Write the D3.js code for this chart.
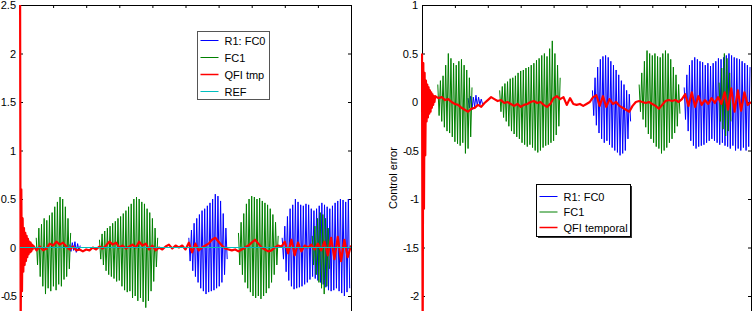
<!DOCTYPE html>
<html>
<head>
<meta charset="utf-8">
<script src="https://cdn.jsdelivr.net/npm/d3@7"></script>
<style>
  body { margin: 0; background: #fff; }
  text { font-family: "Liberation Sans", Arial, sans-serif; }
</style>
</head>
<body>
<div id="grafiek"></div>
<script>
// time between two samples of a burst (s)
var tStep = 0.04;
// red transient: first samples every 0.02 s, then every 0.1 s from t = 0.4
var redFastStep = 0.02;
var redBodyStart = 0.4;
var redBodyStep = 0.1;

var xTicks = [0, 1, 2, 3, 4, 5, 6, 7, 8, 9, 10];
var leftYTicks = [-0.5, 0, 0.5, 1, 1.5, 2, 2.5];
var rightYTicks = [-2, -1.5, -1, -0.5, 0, 0.5, 1];

// ---------- left panel ----------
// bursts: [start time, samples]
var leftFC0 = [
  [1.5, [0.03, -0.04, 0.05, -0.03, 0.06, -0.05, 0.04, -0.03, 0.02]],
  [5.1, [0.1, -0.14, 0.18, -0.24, 0.25, -0.3, 0.3, -0.36, 0.34, -0.42, 0.38, -0.45, 0.4, -0.48, 0.43, -0.46, 0.46, -0.45, 0.5, -0.44, 0.55, -0.42, 0.53, -0.4, 0.48, -0.36, 0.35, -0.28, 0.2, -0.12]],
  [7.92, [0.1, -0.12, 0.22, -0.25, 0.32, -0.34, 0.4, -0.4, 0.44, -0.43, 0.5, -0.42, 0.47, -0.41, 0.44, -0.4, 0.43, -0.38, 0.45, -0.36, 0.44, -0.33, 0.4, -0.3, 0.38, -0.32, 0.4, -0.34, 0.43, -0.36, 0.46, -0.38, 0.44, -0.41, 0.42, -0.44, 0.4, -0.45, 0.43, -0.44, 0.46, -0.42, 0.48, -0.45, 0.5, -0.47, 0.49, -0.5, 0.47, -0.46, 0.5, -0.42]]
];
var leftFC1 = [
  [0.49, [0.1, -0.18, 0.2, -0.3, 0.24, -0.4, 0.3, -0.48, 0.28, -0.42, 0.33, -0.45, 0.36, -0.4, 0.42, -0.44, 0.47, -0.38, 0.52, -0.4, 0.5, -0.33, 0.42, -0.3, 0.3, -0.22, 0.15]],
  [2.4, [0.08, -0.12, 0.14, -0.18, 0.17, -0.24, 0.2, -0.28, 0.22, -0.3, 0.25, -0.32, 0.27, -0.35, 0.3, -0.34, 0.32, -0.4, 0.35, -0.44, 0.38, -0.46, 0.42, -0.45, 0.45, -0.52, 0.5, -0.5, 0.52, -0.55, 0.5, -0.52, 0.47, -0.56, 0.45, -0.62, 0.4, -0.55, 0.36, -0.45, 0.3, -0.35, 0.2, -0.2, 0.1]],
  [6.6, [0.15, -0.18, 0.26, -0.28, 0.35, -0.36, 0.45, -0.42, 0.5, -0.46, 0.53, -0.5, 0.52, -0.52, 0.5, -0.5, 0.51, -0.53, 0.48, -0.5, 0.46, -0.47, 0.44, -0.42, 0.4, -0.36, 0.34, -0.28, 0.26, -0.18, 0.12]],
  [8.83, [0.12, -0.18, 0.22, -0.28, 0.3, -0.36, 0.36, -0.42, 0.34, -0.48, 0.3, -0.4, 0.2, -0.22]]
];
var leftQfiFast = [3.2, -0.9, 0.6, -0.45, 0.3, -0.25, 0.2, -0.18, 0.15, -0.14, 0.12, -0.1, 0.09, -0.07, 0.06, -0.05, 0.05, -0.04, 0.03, -0.02];
var leftQfiBody = [
  0.02, -0.03, 0.01, -0.03, -0.01, 0.04, 0.02, 0.06, 0.03, 0.05,
  0.01, -0.02, 0.01, -0.03, -0.02, -0.04, -0.02, -0.03, 0.0, -0.02,
  0.01, -0.01, 0.02, 0.06, 0.03, 0.05, 0.0, 0.02, -0.01, 0.01,
  0.03, 0.0, 0.06, 0.02, 0.04, -0.02, 0.02, -0.03, 0.0, -0.02,
  0.01, 0.03, -0.01, 0.02, 0.0, 0.02, -0.02,
  0.05, -0.05, 0.04, -0.03, 0.0, 0.02, 0.04, 0.08, 0.1, 0.06,
  0.02, -0.01, -0.02, -0.03, -0.02, -0.04, -0.02, 0.0, 0.02, 0.05,
  0.08, 0.04, 0.0, -0.02, -0.04, -0.03, 0.0, 0.02, 0.01, 0.06,
  -0.06, 0.08, -0.08, 0.05, -0.04, 0.02, 0.0, 0.03, -0.02, 0.04,
  -0.03, 0.06, -0.08, 0.1, -0.12, 0.11, -0.14, 0.08, -0.1, 0.02
];
var refTimes = [0, 10];
var refValues = [0, 0];

// ---------- right panel ----------
var rightFC0 = [
  [1.4, [0.04, -0.06, 0.06, -0.08, 0.05, -0.05, 0.07, -0.04, 0.05, -0.03, 0.03, -0.02]],
  [5.18, [0.12, -0.14, 0.25, -0.24, 0.36, -0.32, 0.44, -0.38, 0.47, -0.42, 0.48, -0.4, 0.46, -0.44, 0.42, -0.47, 0.38, -0.5, 0.33, -0.52, 0.28, -0.55, 0.22, -0.53, 0.18, -0.5, 0.12, -0.38, 0.08, -0.2]],
  [7.97, [0.15, -0.18, 0.28, -0.3, 0.38, -0.4, 0.43, -0.45, 0.46, -0.48, 0.44, -0.46, 0.42, -0.45, 0.41, -0.44, 0.38, -0.42, 0.4, -0.4, 0.37, -0.38, 0.4, -0.4, 0.42, -0.42, 0.45, -0.44, 0.44, -0.42, 0.46, -0.45, 0.48, -0.46, 0.5, -0.48, 0.48, -0.45, 0.46, -0.5, 0.45, -0.48, 0.44, -0.5, 0.42, -0.47, 0.4, -0.5, 0.38, -0.46, 0.36]]
];
var rightFC1 = [
  [0.48, [0.18, -0.14, 0.22, -0.2, 0.27, -0.26, 0.38, -0.3, 0.5, -0.32, 0.45, -0.36, 0.4, -0.41, 0.38, -0.43, 0.42, -0.45, 0.44, -0.42, 0.38, -0.53, 0.33, -0.48, 0.25, -0.36, 0.15]],
  [2.36, [0.12, -0.1, 0.16, -0.16, 0.19, -0.2, 0.21, -0.25, 0.24, -0.3, 0.25, -0.33, 0.27, -0.36, 0.3, -0.38, 0.32, -0.42, 0.33, -0.44, 0.35, -0.46, 0.36, -0.44, 0.38, -0.47, 0.4, -0.5, 0.43, -0.52, 0.45, -0.5, 0.48, -0.47, 0.5, -0.45, 0.47, -0.44, 0.55, -0.42, 0.63, -0.4, 0.5, -0.34, 0.38, -0.25, 0.25]],
  [6.6, [0.18, -0.1, 0.3, -0.18, 0.42, -0.26, 0.53, -0.33, 0.5, -0.38, 0.48, -0.42, 0.5, -0.46, 0.47, -0.48, 0.46, -0.53, 0.5, -0.5, 0.53, -0.47, 0.5, -0.42, 0.44, -0.38, 0.36, -0.32, 0.28, -0.25, 0.18, -0.12]],
  [9.03, [0.2, -0.2, 0.35, -0.28, 0.5, -0.35, 0.45, -0.3, 0.3, -0.2]]
];
var rightQfiFast = [0.5, -2.5, 0.4, -1.1, 0.3, -0.55, 0.22, -0.2, 0.18, -0.16, 0.15, -0.12, 0.12, -0.1, 0.1, -0.06, 0.08, -0.03, 0.06, 0.0];
var rightQfiBody = [
  0.06, 0.04, 0.05, 0.02, 0.03, 0.0, -0.02, -0.03, -0.06, -0.08,
  -0.1, -0.07, -0.06, -0.03, -0.05, -0.01, 0.02, 0.05, 0.03, 0.01,
  0.02, -0.01, 0.0, -0.02, -0.04, -0.02, -0.05, -0.03, -0.02, 0.0,
  0.01, -0.01, 0.0, -0.03, -0.05, -0.02, 0.04, 0.06, 0.03, 0.05,
  -0.03, 0.04, -0.02, -0.03, -0.02, -0.04, -0.02, 0.0, 0.05, 0.07,
  -0.04, 0.06, -0.05, 0.03, -0.02, 0.0, -0.04, -0.06, -0.08, -0.1,
  -0.04, 0.0, 0.01, 0.0, -0.01, 0.0, -0.02, -0.04, -0.07, -0.03,
  0.01, 0.02, 0.01, 0.02, 0.0, 0.03, 0.08, -0.04, 0.1, -0.05,
  0.06, -0.03, 0.02, -0.02, 0.04, -0.01, 0.05, -0.02, 0.1, -0.08,
  0.14, -0.1, 0.12, -0.09, 0.1, -0.03, 0.0
];

var colors = { fc0: "#0000ff", fc1: "#008000", qfi: "#ff0000", ref: "#00bfbf" };

var svg = d3.select("#grafiek")
    .append("svg")
    .attr("width", 754)
    .attr("height", 311);

// turn [start, samples] bursts into point lists
function burstPoints(bursts) {
    return bursts.map(function(b) {
        return b[1].map(function(v, i) { return [b[0] + i * tStep, v]; });
    });
}

function redPoints(fast, body) {
    var a = fast.map(function(v, i) { return [i * redFastStep, v]; });
    var b = body.map(function(v, i) { return [redBodyStart + i * redBodyStep, v]; });
    return a.concat(b);
}

function drawPanel(p) {
    var x = d3.scaleLinear().domain([0, 10]).range([p.left, p.right]);
    var y = d3.scaleLinear().domain(p.yDomain).range([p.bottom, p.top]);

    // axes first (MATLAB box, ticks pointing inwards), the lines go over them
    var fmt = function(d) { return String(d); };
    svg.append("g")
        .attr("transform", "translate(" + p.left + ",0)")
        .call(d3.axisLeft(y).tickValues(p.yTicks).tickFormat(fmt)
            .tickSizeInner(-3).tickSizeOuter(0).tickPadding(4));
    svg.append("g")
        .attr("transform", "translate(" + p.right + ",0)")
        .call(d3.axisRight(y).tickValues(p.yTicks).tickFormat("")
            .tickSizeInner(-3).tickSizeOuter(0));
    svg.append("g")
        .attr("transform", "translate(0," + p.top + ")")
        .call(d3.axisTop(x).tickValues(xTicks).tickFormat("")
            .tickSizeInner(-3).tickSizeOuter(0));

    svg.selectAll(".domain").attr("stroke", "#000");
    svg.selectAll(".tick line").attr("stroke", "#000");
    svg.selectAll(".tick text")
        .attr("fill", "#000")
        .style("font-size", "11px")
        .style("font-family", "'Liberation Sans', Arial, sans-serif")
        // the old MATLAB minus sits tight against the digits
        .style("letter-spacing", function(d) { return d < 0 ? "-1px" : null; });

    var clipId = "clip-" + p.id;
    svg.append("clipPath").attr("id", clipId)
        .append("rect")
        .attr("x", p.left - 1).attr("y", p.top)
        .attr("width", p.right - p.left + 1).attr("height", p.bottom - p.top);

    var plot = svg.append("g").attr("clip-path", "url(#" + clipId + ")");
    var line = d3.line()
        .x(function(d) { return x(d[0]); })
        .y(function(d) { return y(d[1]); });

    plot.selectAll(".fc0").data(burstPoints(p.fc0)).enter()
        .append("path").attr("d", line)
        .attr("fill", "none").attr("stroke", colors.fc0).attr("stroke-width", 1);

    plot.selectAll(".fc1").data(burstPoints(p.fc1)).enter()
        .append("path").attr("d", line)
        .attr("fill", "none").attr("stroke", colors.fc1).attr("stroke-width", 1);

    plot.append("path").datum(redPoints(p.qfiFast, p.qfiBody))
        .attr("d", line)
        .attr("fill", "none").attr("stroke", colors.qfi)
        .attr("stroke-width", 2.2).attr("stroke-linejoin", "round");

    if (p.ref) {
        plot.append("path")
            .datum(refTimes.map(function(t, i) { return [t, refValues[i]]; }))
            .attr("d", line)
            .attr("fill", "none").attr("stroke", colors.ref).attr("stroke-width", 1);
    }

    // legend
    var lg = svg.append("g");
    if (p.legendShadow) {
        lg.append("rect")
            .attr("x", p.legend.x + 1.5).attr("y", p.legend.y + 1.5)
            .attr("width", p.legend.w).attr("height", p.legend.h)
            .attr("fill", "#333");
    }
    lg.append("rect")
        .attr("x", p.legend.x).attr("y", p.legend.y)
        .attr("width", p.legend.w).attr("height", p.legend.h)
        .attr("fill", "#fff").attr("stroke", p.legendShadow ? "#000" : "#555");
    p.legend.items.forEach(function(it, i) {
        var yy = p.legend.y + p.legend.first + i * p.legend.gap;
        lg.append("line")
            .attr("x1", p.legend.x + 3).attr("x2", p.legend.x + 21)
            .attr("y1", yy).attr("y2", yy)
            .attr("stroke", colors[it.key]).attr("stroke-width", it.key === "qfi" ? 1.5 : 1);
        lg.append("text")
            .attr("x", p.legend.x + 27).attr("y", yy + 4)
            .style("font-size", "11px")
            .text(it.label);
    });
}

drawPanel({
    id: "left", left: 20, right: 351, top: 5, bottom: 344.5, yDomain: [-1, 2.5],
    yTicks: leftYTicks, fc0: leftFC0, fc1: leftFC1,
    qfiFast: leftQfiFast, qfiBody: leftQfiBody, ref: true,
    legendShadow: false,
    legend: { x: 197.5, y: 31.5, w: 72, h: 68, first: 9, gap: 17,
        items: [{ key: "fc0", label: "R1: FC0" }, { key: "fc1", label: "FC1" },
                { key: "qfi", label: "QFI tmp" }, { key: "ref", label: "REF" }] }
});

drawPanel({
    id: "right", left: 422, right: 751, top: 5, bottom: 344.5, yDomain: [-2.5, 1],
    yTicks: rightYTicks, fc0: rightFC0, fc1: rightFC1,
    qfiFast: rightQfiFast, qfiBody: rightQfiBody, ref: false,
    legendShadow: true,
    legend: { x: 536.5, y: 184.5, w: 94, h: 52, first: 12, gap: 15.5,
        items: [{ key: "fc0", label: "R1: FC0" }, { key: "fc1", label: "FC1" },
                { key: "qfi", label: "QFI  temporal" }] }
});

// y label of the right panel
svg.append("text")
    .attr("transform", "translate(397,178) rotate(-90)")
    .attr("text-anchor", "middle")
    .style("font-size", "11px")
    .text("Control error");
</script>
</body>
</html>
